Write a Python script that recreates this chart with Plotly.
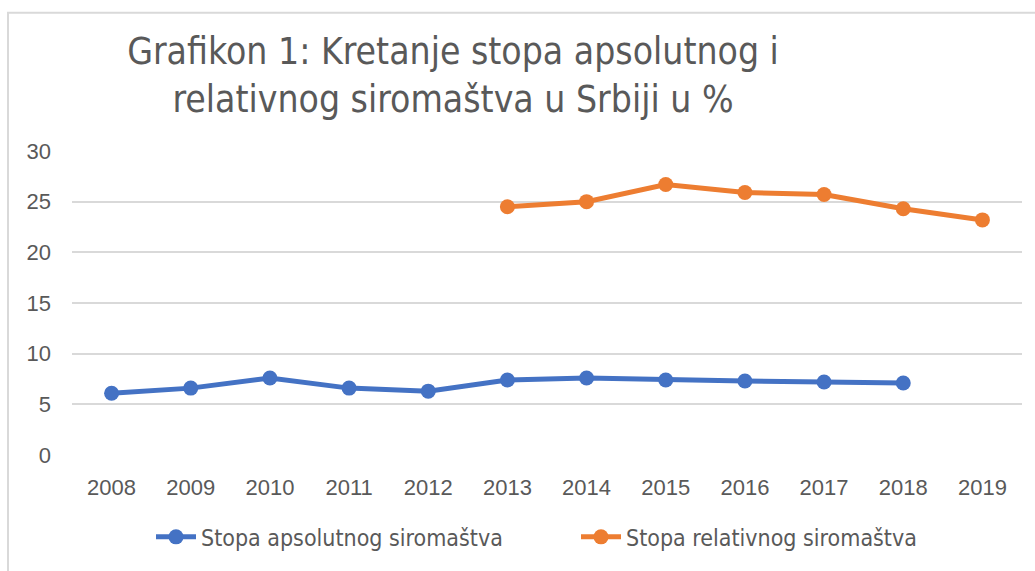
import plotly.graph_objects as go

years = ["2008", "2009", "2010", "2011", "2012", "2013", "2014", "2015", "2016", "2017", "2018", "2019"]
absolute_years = years[:11]
absolute_rate = [6.1, 6.6, 7.6, 6.6, 6.3, 7.4, 7.6, 7.4, 7.3, 7.2, 7.1]
relative_years = years[5:]
relative_rate = [24.5, 25.0, 26.7, 25.9, 25.7, 24.3, 23.2]
y_ticks = [0, 5, 10, 15, 20, 25, 30]

W, H = 1035, 571
L, R, T, B = 72, 13, 151, 112
pw, ph = W - L - R, H - T - B

TITLE_FONT = "Liberation Sans Narrow, DejaVu Sans Condensed, Arial Narrow, sans-serif"
TICK_FONT = "Liberation Sans, Arial, sans-serif"

fig = go.Figure()
fig.add_trace(go.Scatter(
    x=absolute_years, y=absolute_rate, name="Stopa apsolutnog siromaštva",
    mode="lines+markers", line=dict(color="#4472C4", width=5),
    marker=dict(color="#4472C4", size=15)))
fig.add_trace(go.Scatter(
    x=relative_years, y=relative_rate, name="Stopa relativnog siromaštva",
    mode="lines+markers", line=dict(color="#ED7D31", width=5),
    marker=dict(color="#ED7D31", size=15)))

def px_x(x):
    return (x - L) / pw

def px_y(y):
    return (H - B - y) / ph

fig.add_shape(type="rect", xref="paper", yref="paper",
              x0=px_x(8), x1=px_x(1045), y0=px_y(590), y1=px_y(11),
              line=dict(color="#D9D9D9", width=2), layer="below")

fig.update_layout(
    width=W, height=H,
    margin=dict(l=L, r=R, t=T, b=B),
    paper_bgcolor="white", plot_bgcolor="white",
    title=dict(text="Grafikon 1: Kretanje stopa apsolutnog i<br>relativnog siromaštva u Srbiji u %",
               x=453 / W, xanchor="center", xref="container",
               y=1 - 64 / H, yanchor="top", yref="container",
               font=dict(family=TITLE_FONT, size=37, color="#595959")),
    xaxis=dict(type="category", categoryorder="array", categoryarray=years,
               showgrid=False, showline=False, ticks="", zeroline=False,
               ticklabelstandoff=17,
               tickfont=dict(family=TICK_FONT, size=22, color="#595959"),
               range=[-0.5, 11.5]),
    yaxis=dict(range=[0, 30], tickvals=y_ticks, showgrid=True, gridcolor="#D9D9D9",
               gridwidth=2, zeroline=False, showline=False, ticks="",
               ticklabelstandoff=20,
               tickfont=dict(family=TICK_FONT, size=22, color="#595959")),
    legend=dict(orientation="h", x=px_x(576), xanchor="center",
                y=px_y(542), yanchor="middle",
                font=dict(family=TITLE_FONT, size=23, color="#595959"),
                itemwidth=40, tracegroupgap=0,
                entrywidth=370, entrywidthmode="pixels"),
    showlegend=True,
    hovermode=False,
)

fig.write_html("out.html", config=dict(displayModeBar=False),
               post_script="document.body.style.margin='0';document.body.style.overflow='hidden';")
